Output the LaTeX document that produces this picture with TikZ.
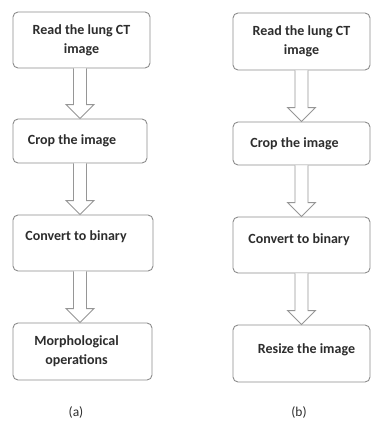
\documentclass[tikz,border=0pt]{standalone}
\usepackage{fontspec}
\setmainfont{Carlito}
\usetikzlibrary{calc}
\definecolor{boxline}{RGB}{140,140,140}
\definecolor{arrline}{RGB}{150,150,150}
\definecolor{txt}{RGB}{45,45,45}
\tikzset{
  box/.style={draw=boxline, line width=0.9pt, rounded corners=5pt, fill=white,
    inner sep=0pt, align=center, text=txt,
    font=\fontsize{14}{19}\selectfont\bfseries},
  blockarrow/.style={draw=arrline, line width=0.9pt, fill=white, line join=miter},
  caption/.style={text=txt, font=\fontsize{13.5}{15}\selectfont}
}
\newcommand{\blockarr}[3]{%
  \draw[blockarrow] let \p1=(#1.south), \p2=(#2.north) in
    (\x1+#3-6.5pt,\y1) -- (\x1+#3-6.5pt,\y2+14pt) -- (\x1+#3-14pt,\y2+14pt)
    -- (\x1+#3,\y2) -- (\x1+#3+14pt,\y2+14pt) -- (\x1+#3+6.5pt,\y2+14pt)
    -- (\x1+#3+6.5pt,\y1);}
\begin{document}
\begin{tikzpicture}[x=1pt,y=-1pt]
\useasboundingbox (0,0) rectangle (371,423);
% column (a)
\node[box, minimum width=137, minimum height=56] (a1) at (81.5,40) {Read the lung CT\\image};
\node[box, minimum width=134, minimum height=44] (a2) at (80,141) {Crop the image\hspace*{16pt}};
\node[box, minimum width=140, minimum height=56] (a3) at (83,243) {Convert to binary\hspace*{14pt}\rule[-15pt]{0pt}{15pt}};
\node[box, minimum width=139, minimum height=57] (a4) at (82.5,351.5) {Morphological\hspace*{12pt}\\operations\hspace*{12pt}};
\node[caption] (la) at (76,412) {(a)};
\blockarr{a1}{a2}{-1.5pt}
\blockarr{a2}{a3}{0pt}
\blockarr{a3}{a4}{-3pt}
% column (b)
\node[box, minimum width=137, minimum height=57] (b1) at (301.5,41.5) {Read the lung CT\\image};
\node[box, minimum width=137, minimum height=43] (b2) at (301.5,143.5) {Crop the image\hspace*{14pt}};
\node[box, minimum width=137, minimum height=56] (b3) at (301.5,245) {Convert to binary\hspace*{5pt}\rule[-13pt]{0pt}{13pt}};
\node[box, minimum width=137, minimum height=57] (b4) at (301.5,353.5) {\hspace*{10pt}Resize the image\rule[-9pt]{0pt}{9pt}};
\node[caption] (lb) at (299,412) {(b)};
\blockarr{b1}{b2}{0pt}
\blockarr{b2}{b3}{0pt}
\blockarr{b3}{b4}{0pt}
\end{tikzpicture}
\end{document}
